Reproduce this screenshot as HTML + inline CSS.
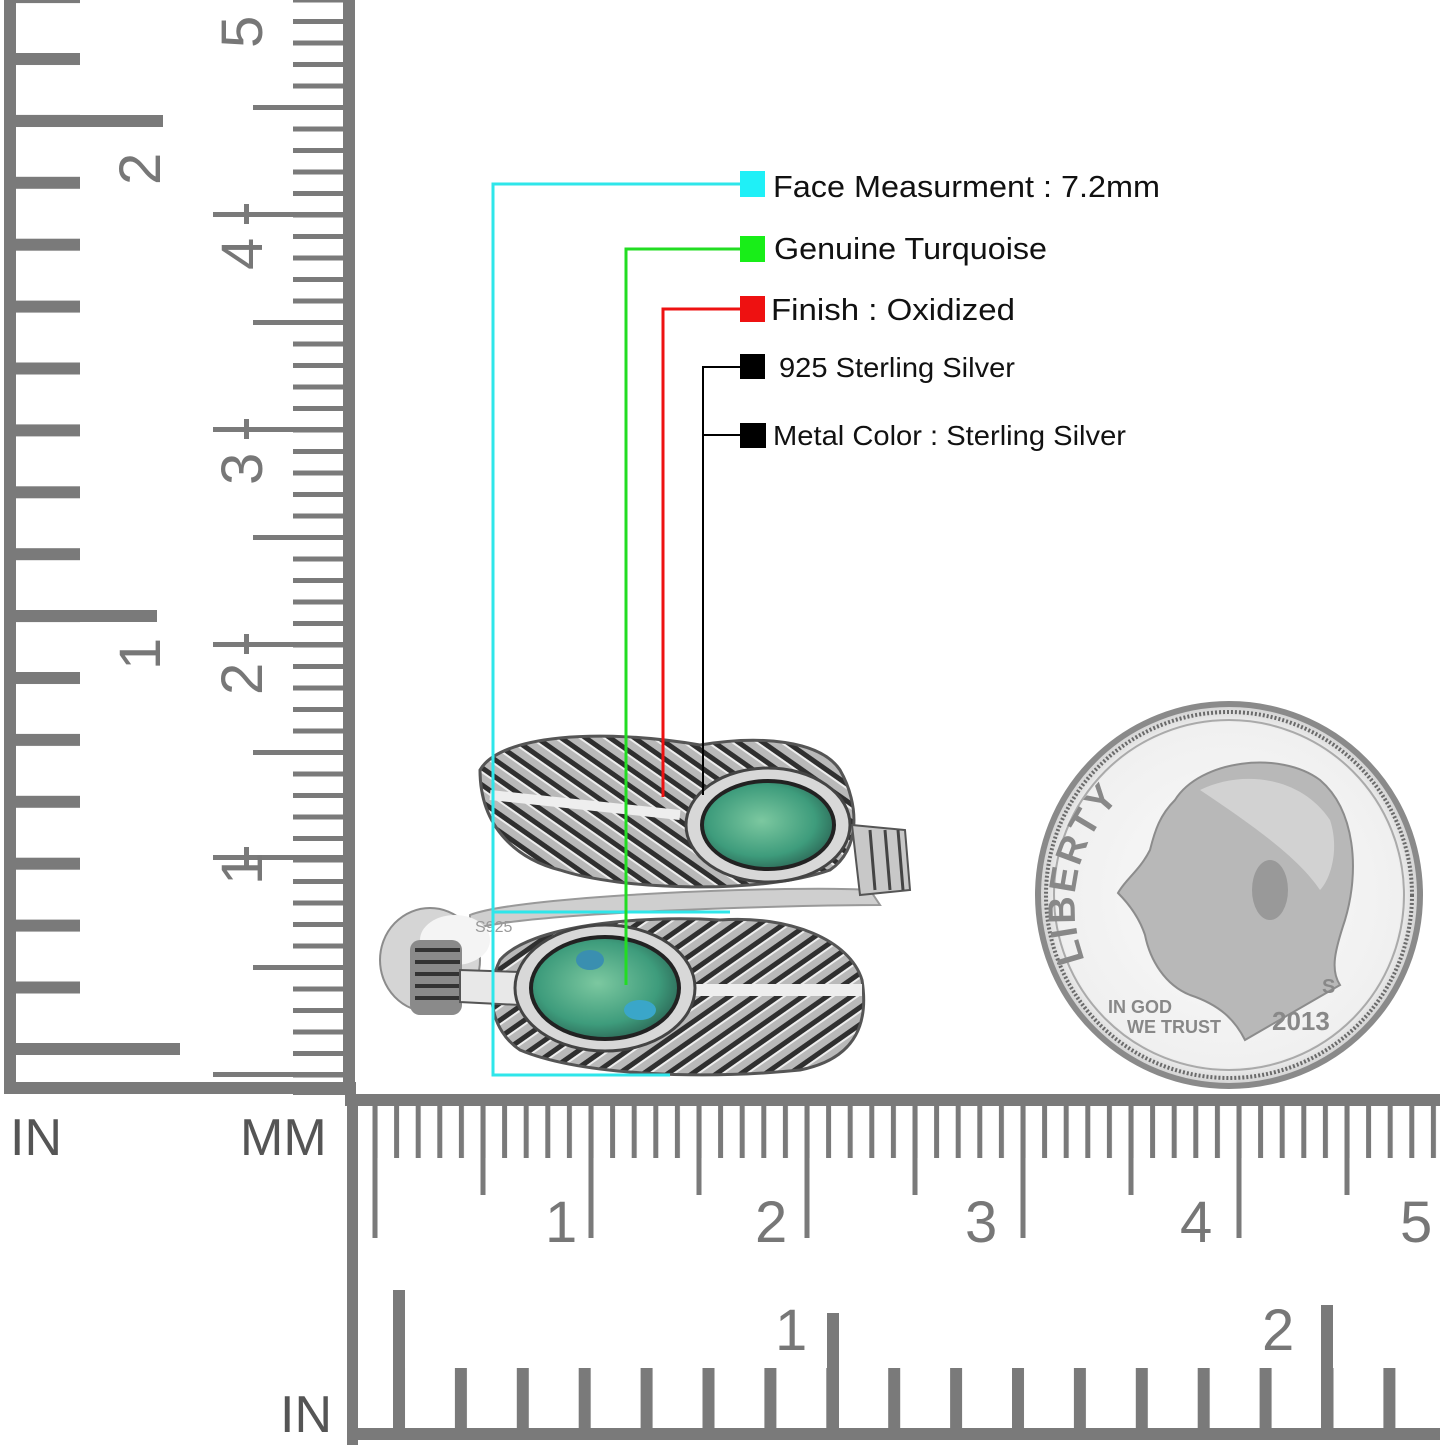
<!DOCTYPE html>
<html><head><meta charset="utf-8"><style>
html,body{margin:0;padding:0;background:#fff;}
svg{display:block;}
text{font-family:"Liberation Sans",Arial,sans-serif;}
</style></head><body>
<svg width="1445" height="1445" viewBox="0 0 1445 1445" xmlns="http://www.w3.org/2000/svg">
<defs>
<pattern id="lmm" patternUnits="userSpaceOnUse" x="0" y="1072.5" width="360" height="21.5"><rect x="293" y="0" width="52" height="5" fill="#7a7a7a"/></pattern>
<pattern id="lin" patternUnits="userSpaceOnUse" x="0" y="53" width="360" height="61.9"><rect x="15" y="0" width="65" height="12" fill="#7a7a7a"/></pattern>
<pattern id="bmm" patternUnits="userSpaceOnUse" x="372.5" y="0" width="21.6" height="1445"><rect x="0" y="1100" width="5" height="58" fill="#7a7a7a"/></pattern>
<pattern id="bin" patternUnits="userSpaceOnUse" x="393" y="0" width="61.9" height="1445"><rect x="0" y="1368" width="12" height="70" fill="#7a7a7a"/></pattern>
<pattern id="fea" patternUnits="userSpaceOnUse" width="14" height="14" patternTransform="rotate(35)"><rect width="14" height="14" fill="#b9b9b9"/><rect width="14" height="5" fill="#2f2f2f"/><rect y="5" width="14" height="2" fill="#eee"/></pattern>
<pattern id="fea2" patternUnits="userSpaceOnUse" width="14" height="14" patternTransform="rotate(-35)"><rect width="14" height="14" fill="#b9b9b9"/><rect width="14" height="5" fill="#2f2f2f"/><rect y="5" width="14" height="2" fill="#eee"/></pattern>
<radialGradient id="tq" cx="0.45" cy="0.45" r="0.6"><stop offset="0" stop-color="#7cc8a0"/><stop offset="0.7" stop-color="#3e9c7c"/><stop offset="1" stop-color="#2d6a58"/></radialGradient>
<radialGradient id="coin" cx="0.5" cy="0.5" r="0.5"><stop offset="0" stop-color="#fafafa"/><stop offset="0.9" stop-color="#f0f0f0"/><stop offset="1" stop-color="#d0d0d0"/></radialGradient>
<path id="libarc" d="M1085,960 A150,150 0 0 1 1160,770"/>
</defs>

<!-- LEFT RULER -->
<rect x="0" y="0" width="360" height="1095" fill="url(#lmm)"/>
<rect x="0" y="0" width="360" height="1046" fill="url(#lin)"/>
<rect x="4" y="0" width="12" height="1094" fill="#7a7a7a"/>
<rect x="4" y="1082" width="352" height="12" fill="#7a7a7a"/>
<rect x="343" y="0" width="12" height="1094" fill="#7a7a7a"/>
<!-- inch long ticks -->
<rect x="15" y="1043" width="165" height="12" fill="#7a7a7a"/>
<rect x="15" y="610" width="142" height="12" fill="#7a7a7a"/>
<rect x="15" y="115" width="148" height="12" fill="#7a7a7a"/>
<!-- mm long ticks -->
<g fill="#7a7a7a">
<rect x="213" y="1072" width="132" height="5"/>
<rect x="253" y="965" width="92" height="5"/>
<rect x="213" y="855" width="132" height="5"/><rect x="244" y="847" width="5" height="20"/>
<rect x="253" y="750" width="92" height="5"/>
<rect x="213" y="642" width="132" height="5"/><rect x="244" y="634" width="5" height="20"/>
<rect x="253" y="535" width="92" height="5"/>
<rect x="213" y="427" width="132" height="5"/><rect x="244" y="419" width="5" height="20"/>
<rect x="253" y="320" width="92" height="5"/>
<rect x="213" y="212" width="132" height="5"/><rect x="244" y="204" width="5" height="20"/>
<rect x="253" y="105" width="92" height="5"/>
</g>
<g fill="#777" font-size="58">
<text transform="translate(262,885) rotate(-90)">1</text>
<text transform="translate(262,695) rotate(-90)">2</text>
<text transform="translate(262,485) rotate(-90)">3</text>
<text transform="translate(262,270) rotate(-90)">4</text>
<text transform="translate(262,48) rotate(-90)">5</text>
<text transform="translate(160,670) rotate(-90)">1</text>
<text transform="translate(160,185) rotate(-90)">2</text>
</g>
<text x="10" y="1155" font-size="52" fill="#555">IN</text>
<text x="240" y="1155" font-size="52" fill="#555">MM</text>
<text x="280" y="1432" font-size="52" fill="#555">IN</text>

<!-- BOTTOM RULER -->
<rect x="358" y="1095" width="1082" height="345" fill="url(#bmm)"/>
<rect x="358" y="1095" width="1082" height="345" fill="url(#bin)"/>
<rect x="345" y="1094" width="1095" height="12" fill="#7a7a7a"/>
<rect x="347" y="1094" width="11" height="351" fill="#7a7a7a"/>
<rect x="347" y="1428" width="1093" height="12" fill="#7a7a7a"/>
<g fill="#7a7a7a">
<rect x="372.5" y="1100" width="5" height="138"/>
<rect x="480.5" y="1100" width="5" height="95"/>
<rect x="588.5" y="1100" width="5" height="138"/>
<rect x="696.5" y="1100" width="5" height="95"/>
<rect x="804.5" y="1100" width="5" height="138"/>
<rect x="912.5" y="1100" width="5" height="95"/>
<rect x="1020.5" y="1100" width="5" height="138"/>
<rect x="1128.5" y="1100" width="5" height="95"/>
<rect x="1236.5" y="1100" width="5" height="138"/>
<rect x="1344.5" y="1100" width="5" height="95"/>
<rect x="393" y="1290" width="12" height="145"/>
<rect x="827" y="1313" width="12" height="120"/>
<rect x="1321" y="1305" width="12" height="130"/>
</g>
<g fill="#777" font-size="58">
<text x="545" y="1242">1</text>
<text x="755" y="1242">2</text>
<text x="965" y="1242">3</text>
<text x="1180" y="1242">4</text>
<text x="1400" y="1242">5</text>
<text x="775" y="1350">1</text>
<text x="1262" y="1350">2</text>
</g>

<!-- COIN -->
<circle cx="1229" cy="895" r="191" fill="url(#coin)" stroke="#8a8a8a" stroke-width="6"/>
<circle cx="1229" cy="895" r="183" fill="none" stroke="#6a6a6a" stroke-width="4" stroke-dasharray="2 2"/>
<circle cx="1229" cy="895" r="175" fill="none" stroke="#aaa" stroke-width="2"/>
<path d="M1175,800 C1200,760 1280,750 1320,780 C1355,810 1360,870 1345,920 C1335,950 1330,970 1340,985 L1245,1040 C1235,1020 1220,1005 1190,995 C1165,985 1150,960 1145,935 C1140,920 1130,905 1118,893 C1125,880 1140,870 1150,850 C1155,830 1160,815 1175,800 Z" fill="#b8b8b8" stroke="#8c8c8c" stroke-width="2"/>
<path d="M1200,790 C1240,770 1300,775 1330,820 C1340,850 1330,880 1320,890 C1300,860 1260,830 1200,790 Z" fill="#d2d2d2"/>
<ellipse cx="1270" cy="890" rx="18" ry="30" fill="#999"/>
<text font-size="38" font-weight="bold" fill="#888" letter-spacing="2"><textPath href="#libarc">LIBERTY</textPath></text>
<text x="1108" y="1013" font-size="18" font-weight="bold" fill="#888">IN GOD</text>
<text x="1127" y="1033" font-size="18" font-weight="bold" fill="#888">WE TRUST</text>
<text x="1272" y="1030" font-size="26" font-weight="bold" fill="#888">2013</text>
<text x="1322" y="993" font-size="20" font-weight="bold" fill="#888">S</text>

<!-- RING -->
<path d="M470,915 C520,895 800,885 870,890 L880,905 C800,905 520,912 470,930 Z" fill="#cfcfcf" stroke="#999" stroke-width="2"/>
<ellipse cx="430" cy="960" rx="50" ry="52" fill="#d5d5d5" stroke="#8c8c8c" stroke-width="2"/>
<ellipse cx="455" cy="940" rx="35" ry="25" fill="#f4f4f4"/>
<rect x="410" y="940" width="52" height="75" rx="10" fill="#8a8a8a"/>
<path d="M415,950 h45 M415,962 h45 M415,974 h45 M415,986 h45 M415,998 h45" stroke="#333" stroke-width="4"/>
<!-- top feather -->
<path d="M480,770 C500,735 600,728 700,745 C760,735 820,740 840,770 C860,805 860,850 830,870 C760,895 620,890 560,870 C520,860 480,830 480,770 Z" fill="url(#fea)" stroke="#555" stroke-width="3"/>
<path d="M490,795 L680,815" stroke="#eee" stroke-width="10"/>
<path d="M852,825 L905,830 L910,890 L860,895 Z" fill="#c8c8c8" stroke="#555" stroke-width="2"/>
<path d="M870,830 l5,60 M885,830 l5,60 M898,830 l5,60" stroke="#444" stroke-width="3"/>
<ellipse cx="768" cy="825" rx="82" ry="57" fill="#d8d8d8" stroke="#444" stroke-width="3"/>
<ellipse cx="768" cy="825" rx="68" ry="46" fill="#222"/>
<ellipse cx="768" cy="825" rx="64" ry="42" fill="url(#tq)"/>
<!-- bottom feather -->
<path d="M500,960 C530,925 640,915 720,920 C790,915 850,940 862,980 C870,1030 850,1060 800,1070 C700,1080 580,1075 520,1050 C490,1030 485,990 500,960 Z" fill="url(#fea2)" stroke="#555" stroke-width="3"/>
<path d="M680,990 L862,990" stroke="#eee" stroke-width="12"/>
<path d="M460,970 L520,972 L520,1005 L460,1002 Z" fill="#e8e8e8" stroke="#555" stroke-width="2"/>
<ellipse cx="605" cy="988" rx="90" ry="63" fill="#d8d8d8" stroke="#444" stroke-width="3"/>
<ellipse cx="605" cy="988" rx="76" ry="53" fill="#222"/>
<ellipse cx="605" cy="988" rx="72" ry="49" fill="url(#tq)"/>
<ellipse cx="640" cy="1010" rx="16" ry="10" fill="#3aa6c9"/>
<ellipse cx="590" cy="960" rx="14" ry="10" fill="#3a8fb0"/>
<text x="475" y="932" font-size="16" fill="#999" font-family="Liberation Serif, serif">S925</text>

<!-- CONNECTORS -->
<g fill="none" stroke-width="3">
<path d="M742,184 H493 V1075 H670" stroke="#2ee6ea"/>
<path d="M493,912 H730" stroke="#2ee6ea"/>
<path d="M742,249 H626 V985" stroke="#22dd22"/>
<path d="M742,309 H663 V797" stroke="#ee1111"/>
</g>
<g fill="none" stroke="#000" stroke-width="2">
<path d="M742,367 H703 V795"/>
<path d="M703,435 H742"/>
</g>
<rect x="740" y="171" width="25" height="26" fill="#1ff0f7"/>
<rect x="740" y="236" width="25" height="26" fill="#18ee18"/>
<rect x="740" y="296" width="25" height="26" fill="#ee1111"/>
<rect x="740" y="354" width="25" height="25" fill="#000"/>
<rect x="740" y="423" width="26" height="25" fill="#000"/>
<g fill="#111" font-size="31">
<text x="773" y="197" textLength="387" lengthAdjust="spacingAndGlyphs">Face Measurment : 7.2mm</text>
<text x="774" y="259" textLength="273" lengthAdjust="spacingAndGlyphs">Genuine Turquoise</text>
<text x="771" y="320" textLength="244" lengthAdjust="spacingAndGlyphs">Finish : Oxidized</text>
<text x="779" y="377" font-size="28" textLength="236" lengthAdjust="spacingAndGlyphs">925 Sterling Silver</text>
<text x="773" y="445" font-size="28" textLength="353" lengthAdjust="spacingAndGlyphs">Metal Color : Sterling Silver</text>
</g>
</svg>
</body></html>
